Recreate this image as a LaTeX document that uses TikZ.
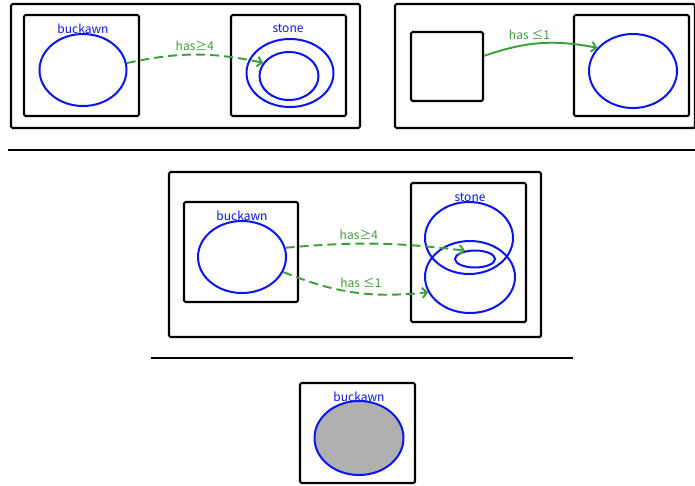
\documentclass[tikz,border=0pt]{standalone}
\usepackage{fontspec}
\setmainfont{Noto Sans CJK JP}
\usepackage{xcolor}
\usetikzlibrary{arrows.meta,shapes.geometric,positioning}
\definecolor{setblue}{HTML}{0A14F0}
\definecolor{relgreen}{HTML}{3A9E3A}
\definecolor{emptygray}{HTML}{B0B0B0}

\tikzset{
  frame/.style={draw,line width=2.1pt,rounded corners=1.5pt,inner sep=0pt},
  set/.style={draw=setblue,ellipse,line width=2pt,inner sep=0pt},
  setname/.style={text=setblue,font=\fontsize{12}{13}\selectfont},
  rel/.style={relgreen,line width=1.9pt,-{Straight Barb[length=4.5pt,width=10pt]}},
  reldash/.style={rel,dash pattern=on 9pt off 5pt},
  rellabel/.style={text=relgreen,font=\fontsize{12}{13}\selectfont}
}

\begin{document}
\begin{tikzpicture}[x=1pt,y=-1pt]
  \useasboundingbox (0,0) rectangle (695,485);
  % top left: at least four
  \begin{scope}
    \node[frame,minimum width=349pt,minimum height=124pt] (outA) at (185.5,66) {};
    \node[frame,minimum width=115pt,minimum height=101pt] (boxA) at (81.5,65.5) {};
    \node[set,minimum width=87pt,minimum height=72pt] (buckA) at (83,70) {};
    \node[setname] (nameA) at (83,29) {buckawn};
    \node[frame,minimum width=115pt,minimum height=101pt] (boxB) at (288.5,65.5) {};
    \node[set,minimum width=87pt,minimum height=68pt] (stoneA) at (290,73) {};
    \node[set,minimum width=59pt,minimum height=48pt] (subA) at (289,76) {};
    \node[setname] (nameB) at (288,28) {stone};
    \draw[reldash] (buckA.9) to[bend left=12] node[rellabel,above=0pt] {has≥4} (subA.153);
  \end{scope}
  % top right: at most one
  \begin{scope}
    \node[frame,minimum width=300pt,minimum height=124pt] (outB) at (545,66) {};
    \node[frame,minimum width=72pt,minimum height=69pt] (boxC) at (447,66.5) {};
    \node[frame,minimum width=115pt,minimum height=101pt] (boxD) at (631.5,65.5) {};
    \node[set,minimum width=88pt,minimum height=74pt] (ellC) at (633,71) {};
    \draw[rel] (boxC.16) to[bend left=15] node[rellabel,above=0pt,pos=0.4] {has ≤1} (ellC.147);
  \end{scope}
  \draw[line width=2pt] (8,150) -- (695,150);
  % middle: both
  \begin{scope}
    \node[frame,minimum width=372pt,minimum height=165pt] (outC) at (355,254.5) {};
    \node[frame,minimum width=114pt,minimum height=100pt] (boxE) at (241,252) {};
    \node[set,minimum width=88pt,minimum height=72pt] (buckB) at (242,257) {};
    \node[setname] (nameC) at (242,216) {buckawn};
    \node[frame,minimum width=115pt,minimum height=139pt] (boxF) at (468.5,252.5) {};
    \node[set,minimum width=88pt,minimum height=72pt] (stoneB) at (469,238) {};
    \node[set,minimum width=90pt,minimum height=72pt] (stoneC) at (470,277) {};
    \node[set,minimum width=40pt,minimum height=17pt] (subB) at (475,259) {};
    \node[setname] (nameD) at (470,197) {stone};
    \draw[reldash] (buckB.12) to[bend left=6] node[rellabel,above=0pt,pos=0.4] {has≥4} (subB.140);
    \draw[reldash] (buckB.-20) to[bend right=14] node[rellabel,above=1pt,pos=0.55] {has ≤1} (stoneC.200);
  \end{scope}
  \draw[line width=2pt] (151,358) -- (573,358);
  % bottom: empty
  \node[frame,minimum width=115pt,minimum height=100pt] (boxG) at (357.5,433) {};
  \node[set,fill=emptygray,minimum width=89pt,minimum height=74pt] (buckC) at (359,438) {};
  \node[setname] (nameE) at (359,397) {buckawn};
\end{tikzpicture}
\end{document}
